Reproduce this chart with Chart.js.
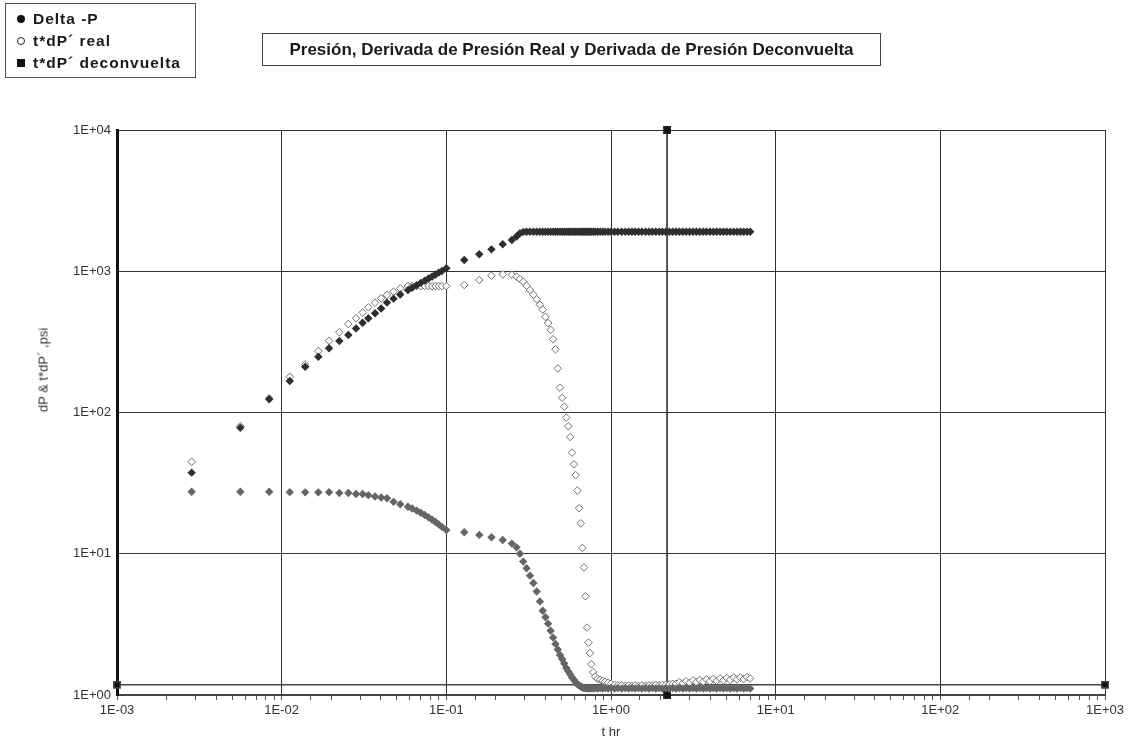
<!DOCTYPE html>
<html>
<head>
<meta charset="utf-8">
<script src="https://cdn.jsdelivr.net/npm/chart.js@4"></script>
<style>
  body { margin: 0; background: #fff; font-family: "Liberation Sans", Arial, sans-serif; }
  #wrap { position: relative; width: 1129px; height: 742px; }
  #legendBox {
    position: absolute; left: 5px; top: 3px; width: 191px; height: 75px;
    border: 1px solid #555; box-sizing: border-box; padding: 4px 0 0 11px;
    font-weight: bold; font-size: 15.5px; letter-spacing: 1px; color: #1a1a1a; line-height: 22px;
  }
  #legendBox .sym { display: inline-block; width: 8px; height: 8px; margin-right: 8px; vertical-align: 1px; box-sizing: border-box; }
  #legendBox .dot { background: #111; border-radius: 50%; }
  #legendBox .ring { border: 1px solid #222; border-radius: 50%; background: #fff; }
  #legendBox .sq { background: #111; }
  #titleBox {
    position: absolute; left: 262px; top: 33px; width: 619px; height: 33px;
    border: 1px solid #444; box-sizing: border-box; text-align: center;
    font-weight: bold; font-size: 17px; line-height: 31px; color: #1a1a1a;
  }
  #yTitle {
    position: absolute; left: 43px; top: 370px; transform: translate(-50%, -50%) rotate(-90deg);
    white-space: nowrap; font-size: 13px; color: #333;
  }
</style>
</head>
<body>
<div id="wrap">
  <canvas id="chart" width="1129" height="742"></canvas>
  <div id="legendBox">
    <div><span class="sym dot"></span>Delta -P</div>
    <div><span class="sym ring"></span>t*dP´ real</div>
    <div><span class="sym sq"></span>t*dP´ deconvuelta</div>
  </div>
  <div id="titleBox">Presión, Derivada de Presión Real y Derivada de Presión Deconvuelta</div>
  <div id="yTitle">dP &amp; t*dP´ ,psi</div>
</div>
<script>
// time in hours (shared by the three series)
const timeHr = [
  0.00284, 0.00561, 0.0084, 0.0112, 0.0139, 0.0167, 0.0194, 0.0224, 0.0254, 0.0283,
  0.031, 0.0336, 0.0369, 0.0402, 0.0436, 0.0478, 0.0525, 0.0585, 0.062, 0.066,
  0.070, 0.074, 0.078, 0.082, 0.086, 0.090, 0.094, 0.100,
  0.1285, 0.1585, 0.188, 0.220, 0.250, 0.267, 0.280, 0.293, 0.307, 0.322,
  0.338, 0.354, 0.370, 0.385, 0.400, 0.415, 0.430, 0.445, 0.460, 0.475,
  0.490, 0.505, 0.520, 0.535, 0.550, 0.565, 0.580, 0.595, 0.610, 0.625,
  0.640, 0.655, 0.670, 0.685, 0.700, 0.715, 0.730, 0.745, 0.760, 0.780,
  0.800, 0.830, 0.860, 0.890, 0.920, 0.960, 1.00, 1.05, 1.10, 1.16,
  1.22, 1.28, 1.34, 1.40, 1.47, 1.54, 1.62, 1.70, 1.78, 1.87,
  1.96, 2.05, 2.15, 2.26, 2.37, 2.48, 2.60, 2.73, 2.86, 3.00,
  3.15, 3.30, 3.46, 3.63, 3.80, 3.99, 4.18, 4.38, 4.60, 4.82,
  5.05, 5.30, 5.56, 5.83, 6.11, 6.40, 6.70, 7.00
];

// Delta -P, psi
const deltaP = [
  37.5, 78, 124, 167, 211, 248, 285, 321, 354, 394,
  432, 465, 504, 545, 600, 640, 685, 735, 765, 795,
  828, 858, 888, 918, 948, 978, 1005, 1050,
  1202, 1318, 1429, 1553, 1665, 1760, 1857, 1900, 1905, 1905,
  1905, 1905, 1905, 1905, 1905, 1905, 1905, 1905, 1905, 1905,
  1905, 1905, 1905, 1905, 1905, 1905, 1905, 1905, 1905, 1905,
  1905, 1905, 1905, 1905, 1905, 1905, 1905, 1905, 1905, 1905,
  1905, 1905, 1905, 1905, 1905, 1905, 1905, 1905, 1905, 1905,
  1905, 1905, 1905, 1905, 1905, 1905, 1905, 1905, 1905, 1905,
  1905, 1905, 1905, 1905, 1905, 1905, 1905, 1905, 1905, 1905,
  1905, 1905, 1905, 1905, 1905, 1905, 1905, 1905, 1905, 1905,
  1905, 1905, 1905, 1905, 1905, 1905, 1905, 1905
];

// t*dP' real, psi
const derivReal = [
  44.8, 80, 126, 179, 219, 272, 322, 370, 423, 465,
  510, 556, 599, 643, 679, 716, 757, 787, 787, 785,
  785, 786, 785, 784, 785, 785, 784, 785,
  800, 867, 930, 951, 945, 916, 880, 843, 790, 736,
  683, 633, 580, 535, 475, 430, 385, 330, 280, 205,
  150, 127, 110, 92, 80, 67, 52, 43, 36, 28,
  21, 16.4, 11, 8, 5, 3, 2.35, 1.98, 1.65, 1.45,
  1.35, 1.3, 1.28, 1.26, 1.24, 1.22, 1.2, 1.18, 1.17, 1.17,
  1.16, 1.17, 1.16, 1.17, 1.16, 1.17, 1.16, 1.17, 1.17, 1.18,
  1.17, 1.18, 1.18, 1.19, 1.2, 1.2, 1.23, 1.21, 1.25, 1.22,
  1.27, 1.23, 1.28, 1.24, 1.29, 1.25, 1.3, 1.26, 1.31, 1.27,
  1.32, 1.28, 1.33, 1.29, 1.33, 1.3, 1.34, 1.31
];

// t*dP' deconvuelta, psi
const derivDeconv = [
  27.5, 27.5, 27.5, 27.3, 27.2, 27.2, 27.3, 26.9, 26.9, 26.5,
  26.5, 26.0, 25.4, 25.0, 24.7, 23.3, 22.4, 21.5, 20.9, 20.2,
  19.5, 18.8, 18.1, 17.4, 16.8, 16.1, 15.5, 14.7,
  14.2, 13.6, 13.1, 12.5, 11.8, 11.1, 10.0, 8.8, 7.9, 7.0,
  6.2, 5.4, 4.6, 3.95, 3.55, 3.2, 2.85, 2.55, 2.3, 2.1,
  1.92, 1.8, 1.67, 1.55, 1.47, 1.4, 1.33, 1.28, 1.23, 1.19,
  1.17, 1.15, 1.13, 1.12, 1.12, 1.11, 1.12, 1.11, 1.12, 1.11,
  1.12, 1.11, 1.12, 1.11, 1.12, 1.11, 1.12, 1.11, 1.12, 1.11,
  1.12, 1.11, 1.12, 1.11, 1.12, 1.11, 1.12, 1.11, 1.12, 1.11,
  1.12, 1.11, 1.12, 1.11, 1.12, 1.11, 1.12, 1.11, 1.12, 1.11,
  1.12, 1.11, 1.12, 1.11, 1.12, 1.11, 1.12, 1.11, 1.12, 1.11,
  1.12, 1.11, 1.12, 1.11, 1.12, 1.11, 1.12, 1.11
];

// cursor lines (vertical at a time, horizontal at a pressure)
const cursorVertT = [2.19, 2.19];
const cursorVertP = [1, 10000];
const cursorHorzT = [0.001, 1000];
const cursorHorzP = [1.18, 1.18];

// axis ranges (decades)
const xRange = [0.001, 1000];
const yRange = [1, 10000];

function toPoints(xs, ys) {
  return xs.map((x, i) => ({ x: x, y: ys[i] })).filter(p => p.y != null);
}

function isDecade(v) {
  const l = Math.log10(v);
  return Math.abs(l - Math.round(l)) < 1e-9;
}

function sciLabel(v) {
  if (!isDecade(v)) return '';
  const e = Math.round(Math.log10(v));
  return '1E' + (e < 0 ? '-' : '+') + String(Math.abs(e)).padStart(2, '0');
}

const ctx = document.getElementById('chart');
const axisFont = { family: '"Liberation Sans", Arial, sans-serif', size: 13 };

new Chart(ctx, {
  type: 'scatter',
  data: {
    datasets: [
      {
        label: 'Delta -P',
        data: toPoints(timeHr, deltaP),
        pointStyle: 'rectRot',
        pointRadius: 4.2,
        backgroundColor: '#2e2e2e',
        borderColor: '#2e2e2e',
        borderWidth: 0,
      },
      {
        label: 't*dP´ deconvuelta',
        data: toPoints(timeHr, derivDeconv),
        pointStyle: 'rectRot',
        pointRadius: 4.2,
        backgroundColor: '#656565',
        borderColor: '#656565',
        borderWidth: 0,
      },
      {
        label: 't*dP´ real',
        data: toPoints(timeHr, derivReal),
        pointStyle: 'rectRot',
        pointRadius: 3.8,
        backgroundColor: '#ffffff',
        borderColor: '#707070',
        borderWidth: 1,
      },
      {
        label: 'cursor t',
        data: toPoints(cursorVertT, cursorVertP),
        showLine: true,
        borderColor: '#222',
        borderWidth: 1.5,
        pointStyle: 'rect',
        pointRadius: 4.5,
        backgroundColor: '#111',
        clip: false,
      },
      {
        label: 'cursor p',
        data: toPoints(cursorHorzT, cursorHorzP),
        showLine: true,
        borderColor: '#444',
        borderWidth: 1.5,
        pointStyle: 'rect',
        pointRadius: 4.5,
        backgroundColor: '#111',
        clip: false,
      }
    ]
  },
  options: {
    responsive: false,
    animation: false,
    devicePixelRatio: 1,
    layout: {
      padding: { top: 130, right: 24, left: 0, bottom: 0 }
    },
    plugins: {
      legend: { display: false },
      tooltip: { enabled: false },
    },
    scales: {
      x: {
        type: 'logarithmic',
        min: xRange[0],
        max: xRange[1],
        afterFit: (scale) => { scale.height = 47; },
        border: { color: '#444', width: 2 },
        grid: {
          color: (c) => (c.tick && isDecade(c.tick.value)) ? '#333' : 'rgba(0,0,0,0)',
          tickColor: '#555',
          tickLength: 5,
        },
        ticks: {
          callback: (v) => sciLabel(v),
          autoSkip: false,
          maxRotation: 0,
          padding: 3,
          color: '#333',
          font: axisFont,
        },
        title: {
          display: true,
          text: 't hr',
          color: '#333',
          font: axisFont,
          padding: { top: 0, bottom: 2 },
        }
      },
      y: {
        type: 'logarithmic',
        min: yRange[0],
        max: yRange[1],
        afterFit: (scale) => { scale.width = 117; },
        border: { color: '#111', width: 3 },
        grid: {
          color: (c) => (c.tick && isDecade(c.tick.value)) ? '#333' : 'rgba(0,0,0,0)',
          drawTicks: false,
        },
        ticks: {
          callback: (v) => sciLabel(v),
          autoSkip: false,
          padding: 6,
          color: '#333',
          font: axisFont,
        }
      }
    }
  }
});
</script>
</body>
</html>
